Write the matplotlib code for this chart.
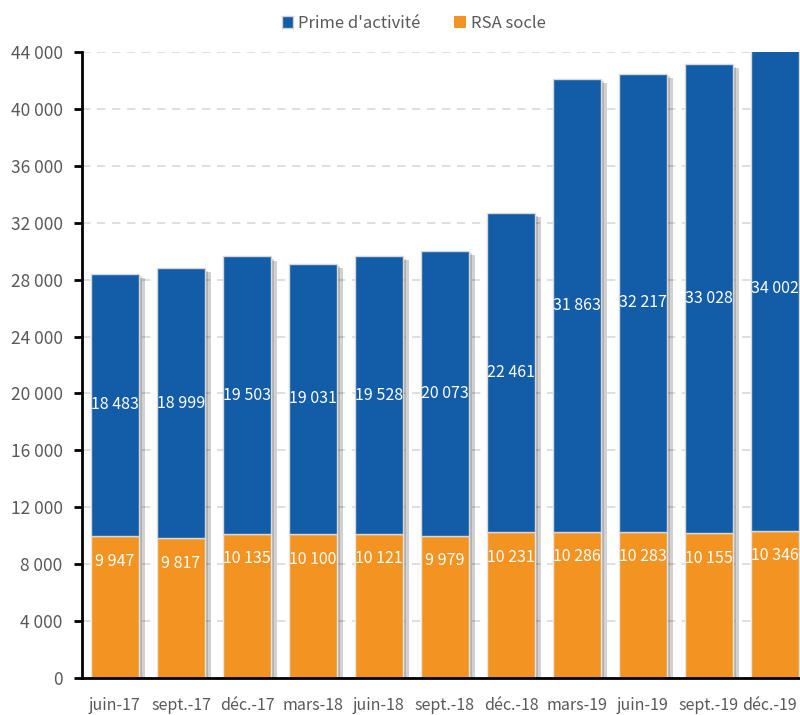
import matplotlib.pyplot as plt
import matplotlib.patheffects as pe
import matplotlib.transforms as mtransforms
from matplotlib.patches import Patch
from matplotlib.ticker import FuncFormatter, MultipleLocator

plt.rcParams['font.family'] = ['Noto Sans CJK KR', 'DejaVu Sans']

# Data
periods = ['juin-17', 'sept.-17', 'déc.-17', 'mars-18', 'juin-18', 'sept.-18',
           'déc.-18', 'mars-19', 'juin-19', 'sept.-19', 'déc.-19']
rsa_socle = [9947, 9817, 10135, 10100, 10121, 9979, 10231, 10286, 10283, 10155, 10346]
prime_activite = [18483, 18999, 19503, 19031, 19528, 20073, 22461, 31863, 32217, 33028, 34002]

blue = '#125ca8'
orange = '#f39322'
grey_txt = '#595959'

def fmt(v):
    return f"{int(v):,}".replace(',', ' ')

fig = plt.figure(figsize=(8, 7.15), dpi=100)
ax = fig.add_axes([0.1025, 0.052, 0.8975, 0.875])

x = list(range(len(periods)))
totals = [a + b for a, b in zip(rsa_socle, prime_activite)]

# soft drop shadow behind the full stacks
ax.bar(x, totals, width=0.74, color='none', edgecolor='none', zorder=2,
       path_effects=[pe.SimplePatchShadow(offset=(4, -3), shadow_rgbFace='#000000', alpha=0.18)])
ax.bar(x, totals, width=0.74, color='none', edgecolor='none', zorder=2,
       path_effects=[pe.SimplePatchShadow(offset=(2, -2), shadow_rgbFace='#000000', alpha=0.15)])

ax.bar(x, rsa_socle, width=0.74, color=orange, edgecolor='#e6e6e6', linewidth=1, zorder=3)
ax.bar(x, prime_activite, width=0.74, bottom=rsa_socle, color=blue, edgecolor='#d8d8d8',
       linewidth=1, zorder=3)

for i in x:
    ax.annotate(fmt(rsa_socle[i]), (i, rsa_socle[i]), xytext=(0, -18), textcoords='offset points',
                ha='center', va='center', color='white', fontsize=11.5, fontweight='medium', zorder=5)
    ax.text(i, rsa_socle[i] + prime_activite[i] / 2, fmt(prime_activite[i]),
            ha='center', va='center', color='white', fontsize=11.5, fontweight='medium', zorder=5)

ax.set_xlim(-0.5, 10.38)
ax.set_ylim(0, 44000)
ax.yaxis.set_major_locator(MultipleLocator(4000))
ax.yaxis.set_major_formatter(FuncFormatter(lambda v, p: fmt(v)))
ax.set_xticks(x)
ax.set_xticklabels(periods)

ax.grid(axis='y', color='#d9d9d9', linestyle=(0, (5, 4)), linewidth=1.2, zorder=0)
ax.set_axisbelow(True)
for s in ['top', 'right']:
    ax.spines[s].set_visible(False)
for s in ['left', 'bottom']:
    ax.spines[s].set_linewidth(2)
    ax.spines[s].set_color('black')
    ax.spines[s].set_zorder(4)
ax.tick_params(axis='y', length=6, width=2, labelsize=12.5, labelcolor=grey_txt, pad=8)
ax.tick_params(axis='x', length=0, labelsize=11.5, labelcolor=grey_txt, pad=14)

# nudge the last label so it stays inside the figure
last = ax.get_xticklabels()[-1]
last.set_transform(last.get_transform() + mtransforms.ScaledTranslation(-5 / 100, 0, fig.dpi_scale_trans))

handles = [Patch(facecolor=blue, edgecolor='#d0d0d0', label="Prime d'activité"),
           Patch(facecolor=orange, edgecolor='none', label='RSA socle')]
fig.legend(handles=handles, loc='upper center', bbox_to_anchor=(0.517, 1.0), ncol=2,
           frameon=False, fontsize=12, handlelength=0.7, handleheight=0.7,
           handletextpad=0.3, columnspacing=2.0, labelcolor=grey_txt)

fig.savefig('out.png', dpi=100)
